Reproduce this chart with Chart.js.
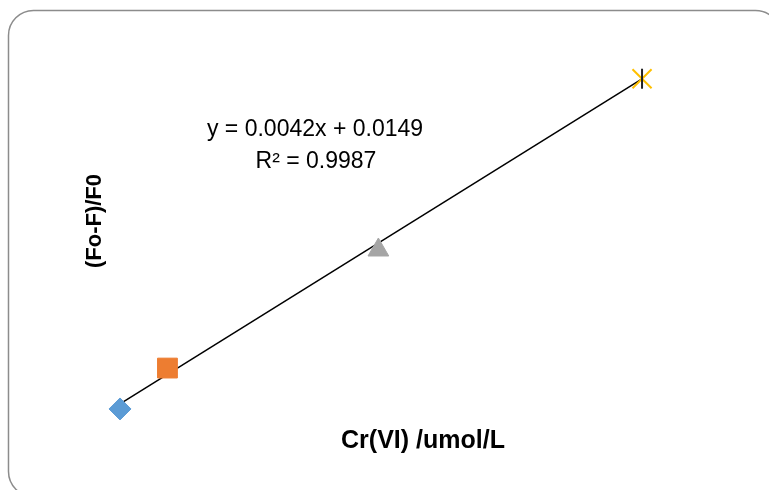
<!DOCTYPE html>
<html>
<head>
<meta charset="utf-8">
<script src="https://cdn.jsdelivr.net/npm/chart.js@4.4.1/dist/chart.umd.min.js"></script>
<style>
  html, body { margin: 0; padding: 0; background: #fff; overflow: hidden; }
  #wrap { width: 769px; height: 490px; }
</style>
</head>
<body>
<div id="wrap"><canvas id="chart" width="769" height="490"></canvas></div>
<script>
// calibration points: concentration vs quenching ratio
const concentrations = [1, 10, 50, 100];
const ratios = [0.0127, 0.065, 0.216, 0.435];
const markerStyles = ['rectRot', 'rect', 'triangle', 'crossRot'];
const markerColors = ['#5B9BD5', '#ED7D31', '#A5A5A5', '#FFC000'];
const markerSizes = [11, 14, 12, 13.5];

// linear fit shown on the chart
const slope = 0.0042;
const intercept = 0.0149;
const equationText = 'y = 0.0042x + 0.0149';
const r2Text = 'R² = 0.9987';
const xTitle = 'Cr(VI) /umol/L';
const yTitle = '(Fo-F)/F0';

const fitX = [concentrations[0], concentrations[concentrations.length - 1]];
const fitLine = fitX.map(x => ({ x: x, y: slope * x + intercept }));

const points = concentrations.map((x, i) => ({ x: x, y: ratios[i] }));
const last = points[points.length - 1];

// rounded frame + free-floating texts
const decorations = {
    id: 'decorations',
    beforeDraw(chart) {
        const ctx = chart.ctx;
        ctx.save();
        ctx.strokeStyle = '#8c8c8c';
        ctx.lineWidth = 1.5;
        ctx.beginPath();
        ctx.roundRect(8.5, 10.5, 772, 486, 25);
        ctx.stroke();
        ctx.restore();
    },
    afterDraw(chart) {
        const ctx = chart.ctx;
        ctx.save();
        ctx.fillStyle = '#000';
        ctx.textAlign = 'center';
        ctx.textBaseline = 'middle';
        ctx.font = '23px "Liberation Sans", Arial, sans-serif';
        ctx.fillText(equationText, 315, 130);
        ctx.fillText(r2Text, 316, 162);

        ctx.font = 'bold 25px "Liberation Sans", Arial, sans-serif';
        ctx.fillText(xTitle, 423, 441);

        ctx.translate(95, 221);
        ctx.rotate(-Math.PI / 2);
        ctx.font = 'bold 22px "Liberation Sans", Arial, sans-serif';
        ctx.fillText(yTitle, 0, 0);
        ctx.restore();
    }
};

new Chart(document.getElementById('chart'), {
    type: 'scatter',
    data: {
        datasets: [
            {
                label: 'fit',
                type: 'line',
                data: fitLine,
                borderColor: '#000',
                borderWidth: 1.5,
                pointRadius: 0,
                fill: false,
                clip: false,
                order: 2
            },
            {
                label: 'samples',
                data: points,
                pointStyle: markerStyles,
                pointRadius: markerSizes,
                pointBackgroundColor: markerColors,
                pointBorderColor: markerColors,
                pointBorderWidth: [1, 1, 1, 2],
                clip: false,
                order: 1
            },
            {
                // dark upright stroke on the last marker
                label: 'tick',
                data: [last],
                pointStyle: 'line',
                rotation: 90,
                pointRadius: 10,
                pointBorderColor: '#222',
                pointBorderWidth: 2,
                clip: false,
                order: 0
            }
        ]
    },
    options: {
        responsive: false,
        animation: false,
        layout: { padding: { left: 62, top: 67, right: 21.5, bottom: 32 } },
        plugins: {
            legend: { display: false },
            tooltip: { enabled: false }
        },
        scales: {
            x: { type: 'linear', min: -10, max: 120, display: false },
            y: { type: 'linear', min: -0.05, max: 0.45, display: false }
        }
    },
    plugins: [decorations]
});
</script>
</body>
</html>
